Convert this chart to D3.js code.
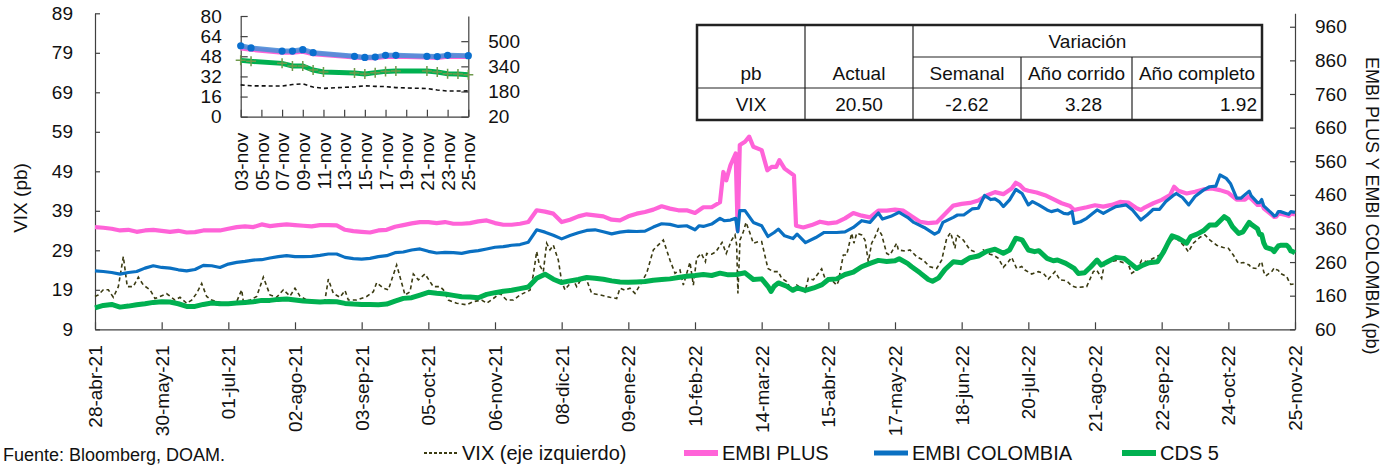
<!DOCTYPE html>
<html>
<head>
<meta charset="utf-8">
<script src="https://cdn.jsdelivr.net/npm/d3@7"></script>
<style>
  body { margin: 0; background: #fff; }
  svg { display: block; font-family: "Liberation Sans", Arial, sans-serif; }
</style>
</head>
<body>
<svg id="chart" width="1398" height="467"></svg>
<script>
// ---- Data -------------------------------------------------------------
// Day offsets are counted from 28-abr-2021.
const startDay = Date.UTC(2021, 3, 28);

const tickDays = [0, 32, 64, 96, 128, 160, 192, 224, 256, 288, 320, 352, 384, 416, 448, 480, 512, 544, 576];
const tickLabels = ["28-abr-21", "30-may-21", "01-jul-21", "02-ago-21", "03-sep-21", "05-oct-21",
  "06-nov-21", "08-dic-21", "09-ene-22", "10-feb-22", "14-mar-22", "15-abr-22", "17-may-22",
  "18-jun-22", "20-jul-22", "21-ago-22", "22-sep-22", "24-oct-22", "25-nov-22"];

const leftTicks = [9, 19, 29, 39, 49, 59, 69, 79, 89];
const rightTicks = [60, 160, 260, 360, 460, 560, 660, 760, 860, 960];

// [day offset, value]
const vix = [[0,17.3],[1.6,17.7],[4,19.0],[6.4,19.0],[8.8,17.1],[11.2,19.8],[13.6,27.4],[15.5,19.8],[18.4,19.8],[20.8,22.2],[23.2,20.2],[26.4,19.0],[28.8,16.8],[31.2,17.3],[34.4,18.0],[36,17.4],[38.4,16.4],[40.8,17.1],[44,15.6],[46.4,16.4],[48.8,18.1],[51.2,20.6],[53.6,17.3],[56,16.4],[61.6,15.6],[64.8,15.2],[68,16.0],[70.4,19.0],[71.2,16.0],[74.4,16.4],[77.6,17.3],[80.8,22.2],[84,17.7],[87.2,17.1],[90.4,19.0],[93.6,17.4],[96,19.4],[98.4,17.4],[101.6,16.4],[105.6,15.6],[108,15.8],[110.4,16.4],[112,21.7],[114.4,18.1],[117.6,17.1],[120,18.8],[121.6,16.4],[125.6,16.4],[130.4,17.3],[133.6,18.5],[135.2,20.8],[138.4,19.4],[140.8,19.0],[144.8,25.3],
  [148.8,17.7],[151.2,18.5],[152.8,23.0],[155.2,21.5],[158.4,23.0],[162.4,19.8],[165.6,19.8],[167.2,19.0],[169.6,16.4],[173.6,15.6],[178.4,15.2],[181.6,16.0],[185.6,16.4],[188,15.6],[191.2,16.8],[194.4,18.1],[197.6,16.4],[200.8,16.4],[204,17.7],[208.8,18.9],[210.4,22.8],[212,28.7],[213.3,25.3],[215.2,23.6],[216.8,30.8],[218.4,29.1],[220,30.3],[222.4,26.5],[224,21.1],[225.6,19.0],[228,20.6],[229.6,21.5],[231.2,19.8],[233.6,21.9],[236,21.5],[238.4,18.1],[242.4,17.7],[247.2,17.1],[250.4,16.8],[252,19.4],[254.4,18.9],[256.8,19.4],[259.2,18.1],[261.6,20.2],[264.8,23.2],[268,29.1],[272.8,31.6],[276,26.5],[278.4,23.2],[280.8,24.0],[282.4,20.2],[285.6,26.0],[287.2,20.2],[288.8,27.0],
  [291,28.2],[293,26.1],[293.6,28.2],[296,28.0],[298,28.6],[301,31.0],[303,28.2],[305.6,31.6],[307.2,32.9],[308,30.3],[308.6,18.1],[309.6,31.6],[311.2,33.7],[312.5,36.1],[314.4,33.3],[316,30.8],[318.4,31.2],[320,31.2],[323,24.4],[325.6,23.6],[328,23.6],[329.6,21.9],[332,21.1],[334.4,18.9],[336.8,20.2],[339.2,19.4],[340.8,18.5],[342.4,21.9],[344.8,21.5],[347.2,23.2],[348.8,24.3],[350.4,21.9],[352.8,21.9],[356,20.2],[356.8,21.1],[359.2,27.8],[360.8,27.8],[363.2,33.3],[364.3,30.8],[365.6,33.3],[368,32.9],[369.6,31.6],[371.2,26.1],[372.8,30.8],[374.4,32.4],[376,34.4],[377.6,32.9],[380,28.2],[381.6,27.8],[384.8,30.8],[385.6,29.1],[388.8,28.8],[391.2,29.1],[394.4,27.4],[397.6,26.5],[400.8,24.8],[404,24.4],[406.4,26.5],[408.8,32.0],[410.7,33.5],[412.8,29.5],[413.6,32.9],[416.8,31.6],[420,29.1],[422.4,28.6],[424.8,27.0],[426.4,29.1],[429.6,28.0],
  [431.2,27.8],[433.6,27.0],[436,24.7],[438.4,26.1],[440,27.2],[442.4,24.4],[444.8,24.9],[446.4,24.0],[449.6,23.0],[452.8,23.6],[455.2,23.2],[457.6,21.7],[460.8,23.6],[463.2,21.5],[466.4,21.3],[468.8,20.0],[471.2,19.6],[476,19.8],[479.2,23.6],[480.8,24.0],[483.2,21.9],[484.8,26.4],[487.2,26.1],[490.4,26.4],[493.6,25.9],[495.2,26.5],[497.6,23.2],[500,24.0],[502.4,26.5],[504.8,26.1],[508,27.0],[511.2,27.8],[513.6,29.9],[516.8,31.6],[518.4,32.3],[520.8,31.2],[523.2,29.9],[524.8,28.6],[527.2,30.8],[530.4,32.3],[532.8,32.9],[535.2,31.6],[538.4,30.3],[541.6,29.7],[544,29.5],[546.4,27.8],[548.8,25.7],[551.2,25.9]];

const embiPlus = [[0,364],[4,362],[8,359],[12,354],[16,356],[20,350],[24,354],[28,356],[32,353],[36,350],[40,353],[44,348],[48,349],[52,354],[56,354],[60,354],[64,359],[68,364],[72,366],[76,364],[80,372],[84,367],[88,370],[92,372],[96,370],[100,368],[104,366],[108,370],[112,370],[116,369],[120,356],[124,352],[128,350],[132,348],[136,354],[140,356],[144,365],[148,370],[152,375],[156,379],[160,379],[164,376],[168,379],[172,374],[176,374],[180,376],[184,381],[188,384],[192,376],[196,371],[200,371],[204,374],[208,379],[212,414],[216,410],[220,404],[224,379],[228,386],[232,396],[236,402],[240,399],[244,396],[248,386],[252,384],[256,396],[260,404],[264,409],[268,416],[272,426],[276,419],[280,414],[284,414],[288,406],[292,423],[296,423],[300,438],[301.6,528],[303,503],[305,548],[307.5,583],[308.5,353],[309.5,608],[312,618],[314,633],[316,603],[320,593],[322.7,533],[324.8,543],[327,543],[328.5,563],[331,538],[335.5,518],[336.5,368],[340,363],[344,370],[348,380],[352,375],[356,378],[360,390],[364,406],[368,398],[372,393],[376,413],[380,413],[384,416],[388,413],[392,396],[396,380],[400,376],[404,378],[408,403],[412,428],[416,433],[420,436],[424,443],[428,458],[432,468],[436,462],[440,479],[442,496],[444,489],[446,476],[448,472],[452,467],[456,459],[460,447],[464,435],[468,427],[470,415],[472,418],[476,423],[480,429],[484,425],[488,430],[492,439],[496,437],[500,420],[502,415],[504,423],[508,435],[512,445],[516,459],[518,484],[520,472],[524,464],[528,469],[532,476],[536,479],[540,474],[544,466],[548,446],[552,446]];

const embiColombia = [[0,234],[4,232],[8,229],[12,224],[16,229],[20,232],[24,242],[28,249],[32,244],[36,242],[40,237],[44,234],[48,238],[52,250],[56,249],[60,244],[64,254],[68,259],[72,262],[76,266],[80,267],[84,272],[88,276],[92,279],[96,276],[100,276],[104,277],[108,280],[112,284],[116,284],[120,274],[124,270],[128,269],[132,271],[136,276],[140,279],[144,288],[148,290],[152,296],[156,299],[160,292],[164,287],[168,289],[172,288],[176,286],[180,291],[184,294],[188,299],[192,304],[196,306],[200,310],[204,312],[208,319],[212,356],[216,349],[220,340],[224,329],[228,339],[232,347],[236,354],[240,356],[244,350],[248,344],[252,349],[256,352],[260,351],[264,352],[268,364],[272,374],[276,372],[280,366],[284,368],[288,356],[290,368],[292,366],[296,373],[300,390],[302,383],[305,385],[307.5,390],[308.5,350],[309.5,413],[312,413],[316,378],[320,368],[323,336],[326,348],[328,358],[331,338],[335,330],[337,343],[341,318],[346,333],[350,348],[356,348],[360,350],[364,363],[368,383],[372,378],[376,406],[378,388],[382,396],[386,408],[390,393],[393,378],[398,363],[403,343],[405,350],[407,378],[412,393],[414,400],[417,400],[421,418],[424,420],[427,458],[430,446],[432,448],[434,440],[436,425],[439,445],[442,476],[445,464],[448,430],[450,440],[453,430],[457,415],[459,410],[462,415],[465,405],[467,403],[469,410],[470,375],[473,380],[476,390],[479,405],[481,415],[484,405],[487,415],[490,425],[495,430],[498,415],[502,385],[505,400],[508,417],[511,417],[514,440],[518,460],[519,464],[522,452],[525,430],[528,455],[532,474],[535,484],[538,486],[540,519],[543,509],[545,494],[548,450],[550,450]];

const cds5 = [[0,124],[4,131],[8,134],[12,126],[16,129],[20,133],[24,136],[28,140],[32,142],[36,141],[40,136],[44,128],[48,128],[52,134],[56,138],[60,136],[64,136],[68,138],[72,140],[76,142],[80,146],[84,146],[88,149],[92,150],[96,147],[100,144],[104,143],[108,141],[112,143],[116,142],[120,137],[124,135],[128,134],[132,134],[136,133],[140,135],[144,144],[148,152],[152,154],[156,162],[160,170],[164,167],[168,165],[172,161],[176,157],[180,156],[184,154],[188,164],[192,169],[196,173],[200,176],[204,181],[208,186],[212,212],[216,224],[220,209],[224,199],[228,204],[232,208],[236,214],[240,212],[244,209],[248,204],[252,201],[256,200],[260,201],[264,202],[268,206],[272,208],[276,210],[280,214],[284,218],[288,220],[292,223],[296,220],[300,227],[304,222],[308,223],[312,228],[316,208],[320,210],[323,188],[324.5,173],[326,188],[328,198],[332,188],[335,176],[337,183],[341,176],[345,183],[349,193],[352,208],[356,210],[360,223],[364,230],[368,246],[372,256],[376,265],[380,262],[384,264],[386,270],[390,256],[392,246],[396,228],[400,208],[402,203],[405,213],[408,238],[412,261],[416,258],[420,273],[424,278],[428,292],[432,298],[436,286],[439,296],[442,331],[445,326],[448,296],[451,291],[453,294],[457,271],[460,264],[462,266],[466,256],[470,241],[472,226],[475,228],[478,246],[481,266],[483,251],[486,261],[490,274],[494,271],[497,256],[500,241],[503,251],[506,258],[510,261],[513,291],[515,316],[517,338],[520,331],[524,316],[526,336],[529,343],[532,353],[535,370],[538,370],[542,395],[544,387],[546,365],[549,345],[551,350]];

// November 2022 daily closes (also the detail panel)
const novVixDays = [3, 4, 7, 8, 9, 10, 11, 14, 15, 16, 17, 18, 21, 22, 23, 25];
const novVix = [25.30, 24.55, 24.35, 25.54, 26.09, 23.53, 22.52, 23.73, 24.54, 24.11, 23.93, 23.12, 22.36, 21.24, 20.35, 20.50];
const novEmbiDays = [3, 4, 7, 8, 9, 10, 14, 15, 16, 17, 18, 21, 22, 23, 25];
const novEmbiPlus = [456, 448, 430, 430, 436, 420, 400, 394, 395, 403, 404, 399, 397, 404, 402];
const novEmbiColombia = [471, 457, 437, 437, 446, 427, 404, 397, 399, 410, 410, 404, 402, 410, 408];
const novCdsDays = [3, 4, 7, 8, 9, 10, 11, 14, 15, 16, 17, 18, 21, 22, 23, 24, 25];
const novCds = [378, 372, 359, 342, 342, 317, 304, 298, 291, 300, 308, 310, 310, 304, 293, 291, 287];

const insetTickDays = [3, 5, 7, 9, 11, 13, 15, 17, 19, 21, 23, 25];
const insetTickLabels = ["03-nov", "05-nov", "07-nov", "09-nov", "11-nov", "13-nov", "15-nov", "17-nov", "19-nov", "21-nov", "23-nov", "25-nov"];
const insetLeftTicks = [0, 16, 32, 48, 64, 80];
const insetRightTicks = [20, 180, 340, 500];

// Summary table
const tableHeader = ["pb", "Actual", "Semanal", "Año corrido", "Año completo"];
const tableRow = ["VIX", "20.50", "-2.62", "3.28", "1.92"];

// ---- Helpers ----------------------------------------------------------
const dayDate = d => new Date(startDay + d * 864e5);
const novDate = n => new Date(Date.UTC(2022, 10, n));
const fromPairs = pairs => pairs.map(([d, v]) => ({ date: dayDate(d), v }));
const fromNov = (days, vals) => days.map((n, i) => ({ date: novDate(n), v: vals[i] }));

const COLORS = { vix: "#3b3b12", plus: "#ff63d8", col: "#0a70c2", cds: "#00b050" };
const AXIS = "#404040";

const svg = d3.select("#chart");

// ---- Main chart -------------------------------------------------------
const M = { left: 95, right: 1295, top: 13.3, bottom: 329.3 };
const x = d3.scaleUtc().domain([dayDate(0), dayDate(576)]).range([M.left, M.right]);
const yL = d3.scaleLinear().domain([9, 89]).range([M.bottom, M.top]);
const yR = d3.scaleLinear().domain([60, 1000]).range([M.bottom, M.top]);

const main = svg.append("g");

function styleAxis(g) {
  g.select(".domain").attr("stroke", AXIS).attr("stroke-width", 1.2);
  g.selectAll(".tick line").attr("stroke", AXIS).attr("stroke-width", 1.2);
  g.selectAll(".tick text").attr("fill", "#111").style("font-size", "19px")
    .style("font-family", '"Liberation Sans", Arial, sans-serif');
}

// left axis
main.append("g").attr("transform", `translate(${M.left},0)`)
  .call(d3.axisLeft(yL).tickValues(leftTicks).tickSizeInner(-5).tickSizeOuter(0).tickPadding(22))
  .call(styleAxis);

// right axis
main.append("g").attr("transform", `translate(${M.right},0)`)
  .call(d3.axisRight(yR).tickValues(rightTicks).tickSizeInner(-5).tickSizeOuter(0).tickPadding(20))
  .call(styleAxis);

// bottom axis with rotated date labels
main.append("g").attr("transform", `translate(0,${M.bottom})`)
  .call(d3.axisBottom(x).tickValues(tickDays.map(dayDate)).tickFormat((d, i) => tickLabels[i])
    .tickSizeInner(-7).tickSizeOuter(0).tickPadding(0))
  .call(styleAxis)
  .call(g => g.selectAll(".tick text")
    .attr("transform", "rotate(-90)").attr("x", -16).attr("y", 0).attr("dy", "0.35em")
    .style("text-anchor", "end"));

// axis titles
svg.append("text").attr("transform", "translate(27,198) rotate(-90)")
  .attr("text-anchor", "middle").style("font-size", "19px").attr("fill", "#111")
  .text("VIX  (pb)");
svg.append("text").attr("transform", "translate(1366,57) rotate(90)")
  .attr("text-anchor", "start").style("font-size", "18px").attr("fill", "#111")
  .text("EMBI PLUS Y EMBI COLOMBIA  (pb)");

// series
const lineL = d3.line().x(d => x(d.date)).y(d => yL(d.v));
const lineR = d3.line().x(d => x(d.date)).y(d => yR(d.v));

const vixSeries = fromPairs(vix).concat(fromNov(novVixDays, novVix));
const plusSeries = fromPairs(embiPlus).concat(fromNov(novEmbiDays, novEmbiPlus));
const colSeries = fromPairs(embiColombia).concat(fromNov(novEmbiDays, novEmbiColombia));
const cdsSeries = fromPairs(cds5).concat(fromNov(novCdsDays, novCds));

main.append("path").datum(vixSeries).attr("d", lineL)
  .attr("fill", "none").attr("stroke", COLORS.vix).attr("stroke-width", 1.6)
  .attr("stroke-dasharray", "4,3");
main.append("path").datum(plusSeries).attr("d", lineR)
  .attr("fill", "none").attr("stroke", COLORS.plus).attr("stroke-width", 4.2)
  .attr("stroke-linejoin", "round");
main.append("path").datum(colSeries).attr("d", lineR)
  .attr("fill", "none").attr("stroke", COLORS.col).attr("stroke-width", 3.2)
  .attr("stroke-linejoin", "round");
main.append("path").datum(cdsSeries).attr("d", lineR)
  .attr("fill", "none").attr("stroke", COLORS.cds).attr("stroke-width", 5)
  .attr("stroke-linejoin", "round");

// ---- Detail panel: November 2022 -----------------------------------------
const I = { left: 240.7, right: 468.3, top: 16, bottom: 116.7 };
const xi = d3.scaleUtc().domain([novDate(3), novDate(25)]).range([I.left, I.right]);
const yiL = d3.scaleLinear().domain([0, 80]).range([I.bottom, I.top]);
const yiR = d3.scaleLinear().domain([20, 660]).range([I.bottom, I.top]);
const inset = svg.append("g");

inset.append("g").attr("transform", `translate(${I.left},0)`)
  .call(d3.axisLeft(yiL).tickValues(insetLeftTicks).tickSizeInner(-7).tickSizeOuter(0).tickPadding(19))
  .call(styleAxis);
inset.append("g").attr("transform", `translate(${I.right},0)`)
  .call(d3.axisRight(yiR).tickValues(insetRightTicks).tickSizeInner(-7).tickSizeOuter(0).tickPadding(20))
  .call(styleAxis);
inset.append("g").attr("transform", `translate(0,${I.bottom})`)
  .call(d3.axisBottom(xi).tickValues(insetTickDays.map(novDate)).tickFormat((d, i) => insetTickLabels[i])
    .tickSizeInner(-7).tickSizeOuter(0).tickPadding(0))
  .call(styleAxis)
  .call(g => g.selectAll(".tick text")
    .attr("transform", "rotate(-90)").attr("x", -16).attr("y", 0).attr("dy", "0.35em")
    .style("text-anchor", "end"));

const liL = d3.line().x(d => xi(d.date)).y(d => yiL(d.v));
const liR = d3.line().x(d => xi(d.date)).y(d => yiR(d.v));
const nVix = fromNov(novVixDays, novVix);
const nPlus = fromNov(novEmbiDays, novEmbiPlus);
const nCol = fromNov(novEmbiDays, novEmbiColombia);
const nCds = fromNov(novCdsDays, novCds);

inset.append("path").datum(nVix).attr("d", liL)
  .attr("fill", "none").attr("stroke", "#111").attr("stroke-width", 1.6).attr("stroke-dasharray", "4,3");
inset.append("path").datum(nPlus).attr("d", liR)
  .attr("fill", "none").attr("stroke", COLORS.plus).attr("stroke-width", 5);
inset.append("path").datum(nCol).attr("d", liR)
  .attr("fill", "none").attr("stroke", "#4d8ed8").attr("stroke-width", 5).attr("stroke-opacity", 0.9);
inset.selectAll("circle.col").data(nCol).join("circle").attr("class", "col")
  .attr("cx", d => xi(d.date)).attr("cy", d => yiR(d.v)).attr("r", 3.6).attr("fill", "#0a6fce");
inset.append("path").datum(nCds).attr("d", liR)
  .attr("fill", "none").attr("stroke", COLORS.cds).attr("stroke-width", 5);
inset.selectAll("path.cross").data(nCds).join("path").attr("class", "cross")
  .attr("d", d => { const cx = xi(d.date), cy = yiR(d.v);
    return `M${cx - 5},${cy}H${cx + 5}M${cx},${cy - 5}V${cy + 5}`; })
  .attr("stroke", "#6f9a4c").attr("stroke-width", 1.5);

// ---- Summary table ------------------------------------------------------
const T = { x0: 697, x1: 1262, y0: 25, y1: 120 };
const colX = [697, 805, 913, 1021, 1132, 1262];
const rowY = [25, 57, 88, 120];
const table = svg.append("g");
table.append("rect").attr("x", T.x0).attr("y", T.y0).attr("width", T.x1 - T.x0).attr("height", T.y1 - T.y0)
  .attr("fill", "#fff").attr("stroke", "#222").attr("stroke-width", 2.5);
const tl = (x1, y1, x2, y2) => table.append("line").attr("x1", x1).attr("y1", y1).attr("x2", x2).attr("y2", y2)
  .attr("stroke", "#222").attr("stroke-width", 1.2);
tl(colX[1], rowY[0], colX[1], rowY[3]);
tl(colX[2], rowY[0], colX[2], rowY[3]);
tl(colX[3], rowY[1], colX[3], rowY[3]);
tl(colX[4], rowY[1], colX[4], rowY[3]);
tl(colX[2], rowY[1], colX[5], rowY[1]);
tl(colX[0], rowY[2], colX[5], rowY[2]);
const tt = (txt, xx, yy, anchor) => table.append("text").attr("x", xx).attr("y", yy)
  .attr("text-anchor", anchor).style("font-size", "19px").attr("fill", "#111").text(txt);
tt("Variación", (colX[2] + colX[5]) / 2, 48, "middle");
tableHeader.forEach((h, i) => tt(h, (colX[i] + colX[i + 1]) / 2, 80, "middle"));
tt(tableRow[0], (colX[0] + colX[1]) / 2, 111, "middle");
tt(tableRow[1], (colX[1] + colX[2]) / 2, 111, "middle");
tt(tableRow[2], (colX[2] + colX[3]) / 2, 111, "middle");
tt(tableRow[3], 1102, 111, "end");
tt(tableRow[4], 1257, 111, "end");

// ---- Legend & source ------------------------------------------------------
const legendItems = [
  { label: "VIX (eje izquierdo)", x: 424, color: COLORS.vix, w: 2, dash: "3,2" },
  { label: "EMBI PLUS", x: 684, color: COLORS.plus, w: 6 },
  { label: "EMBI COLOMBIA", x: 874, color: COLORS.col, w: 5 },
  { label: "CDS 5", x: 1122, color: COLORS.cds, w: 6 }
];
const lg = svg.append("g");
legendItems.forEach(it => {
  lg.append("line").attr("x1", it.x).attr("x2", it.x + 34).attr("y1", 453).attr("y2", 453)
    .attr("stroke", it.color).attr("stroke-width", it.w).attr("stroke-dasharray", it.dash || null);
  lg.append("text").attr("x", it.x + 38).attr("y", 460).style("font-size", "20px").attr("fill", "#111")
    .text(it.label);
});
svg.append("text").attr("x", 3).attr("y", 461).style("font-size", "18px").attr("fill", "#111")
  .text("Fuente: Bloomberg, DOAM.");
</script>
</body>
</html>
